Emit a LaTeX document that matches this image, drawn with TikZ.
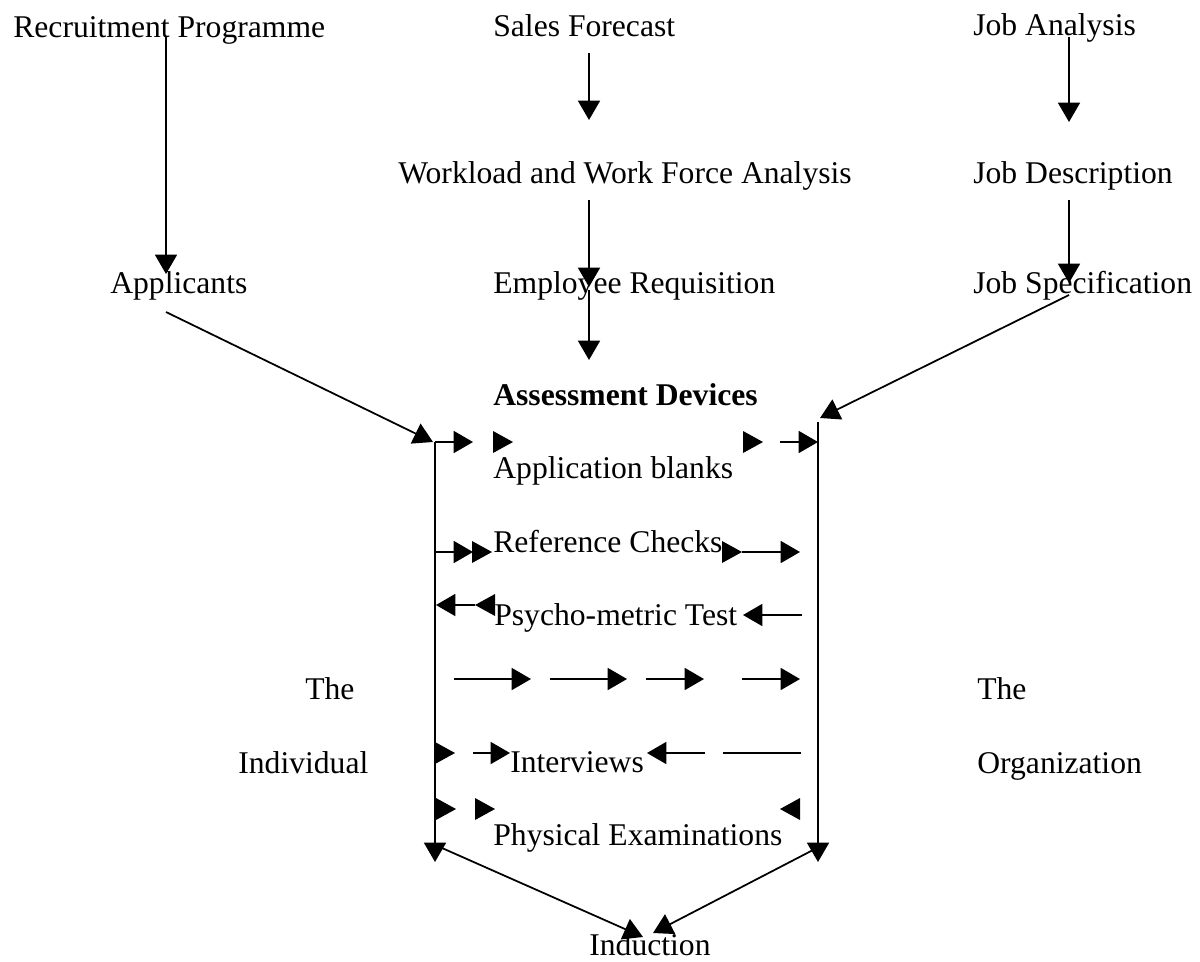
\documentclass[tikz,border=0pt]{standalone}
\usepackage{fontspec}
\setmainfont{Liberation Serif}
\usetikzlibrary{arrows.meta}
\begin{document}
\begin{tikzpicture}[x=0.02cm,y=-0.02cm,
  lbl/.style={anchor=base west,inner sep=0pt,font=\fontsize{18}{21}\selectfont},
  conn/.style={line width=1pt,-{Triangle[length=11pt,width=12.5pt]}},
  plain/.style={line width=1pt},
  headr/.pic={\fill (0,0) -- (-20,-11) -- (-20,11) -- cycle;},
  headl/.pic={\fill (0,0) -- (20,-11) -- (20,11) -- cycle;}]
\useasboundingbox (0,0) rectangle (1200,961);
% texts
\node[lbl] (rec) at (13,37) {Recruitment Programme};
\node[lbl] (sales) at (493,36) {Sales Forecast};
\node[lbl] (janal) at (973,35) {Job Analysis};
\node[lbl] (work) at (398,183) {Workload and Work Force Analysis};
\node[lbl] (jdesc) at (973,183) {Job Description};
\node[lbl] (appl) at (110,293) {Applicants};
\node[lbl] (empreq) at (493,293) {Employee Requisition};
\node[lbl] (jspec) at (973,293) {Job Specification};
\node[lbl,font=\fontsize{18}{21}\selectfont\bfseries] (assess) at (493,405) {Assessment Devices};
\node[lbl] (ablank) at (493,478) {Application blanks};
\node[lbl] (refch) at (493,552) {Reference Checks};
\node[lbl] (psy) at (494,625) {Psycho-metric Test};
\node[lbl] (the1) at (305,699) {The};
\node[lbl] (the2) at (977,699) {The};
\node[lbl] (indiv) at (238,773) {Individual};
\node[lbl] (org) at (977,773) {Organization};
\node[lbl] (intv) at (510,772) {Interviews};
\node[lbl] (phys) at (493,845) {Physical Examinations};
\node[lbl] (induc) at (589,955) {Induction};
% connector end points
\coordinate (recS) at (166,37);   \coordinate (applN) at (166,274);
\coordinate (salesS) at (589,53); \coordinate (workN) at (589,120);
\coordinate (janS) at (1069,37);  \coordinate (jdN) at (1069,122);
\coordinate (workS) at (589,200); \coordinate (erN) at (589,287);
\coordinate (erS) at (589,290);   \coordinate (asN) at (589,360);
\coordinate (jdS) at (1069,200);  \coordinate (jsN) at (1069,283);
\coordinate (applS) at (166,312); \coordinate (Ltop) at (433,442);
\coordinate (jsS) at (1069,295);  \coordinate (Rtop) at (820,418);
\coordinate (L0) at (435,442);    \coordinate (Lbot) at (435,862);
\coordinate (R0) at (818,422);    \coordinate (Rbot) at (818,862);
\coordinate (Lout) at (442,848);  \coordinate (indL) at (643,937);
\coordinate (Rout) at (813,850);  \coordinate (indR) at (653,933);
% connectors
\draw[conn] (recS) -- (applN);
\draw[conn] (salesS) -- (workN);
\draw[conn] (janS) -- (jdN);
\draw[conn] (workS) -- (erN);
\draw[conn] (erS) -- (asN);
\draw[conn] (jdS) -- (jsN);
\draw[conn] (applS) -- (Ltop);
\draw[conn] (jsS) -- (Rtop);
\draw[conn] (L0) -- (Lbot);
\draw[conn] (R0) -- (Rbot);
\draw[conn] (Lout) -- (indL);
\draw[conn] (Rout) -- (indR);
% row 1
\draw[conn] (435,442) -- (473,442);
\pic at (513,442) {headr};
\pic at (763,442) {headr};
\draw[conn] (780,442) -- (818,442);
% row 2
\draw[conn] (435,552) -- (473,552);
\pic at (492,552) {headr};
\pic at (742,552) {headr};
\draw[conn] (742,552) -- (800,552);
% row 3
\draw[conn] (475,605) -- (436,605);
\pic at (475,605) {headl};
\draw[conn] (802,615) -- (743,615);
% row 4
\draw[conn] (454,679) -- (531,679);
\draw[conn] (550,679) -- (627,679);
\draw[conn] (646,679) -- (704,679);
\draw[conn] (742,679) -- (800,679);
% row 5
\pic at (455,753) {headr};
\draw[conn] (473,753) -- (510,753);
\draw[conn] (705,753) -- (647,753);
\draw[plain] (723,753) -- (801,753);
% row 6
\pic at (456,809) {headr};
\pic at (495,809) {headr};
\pic at (780,809) {headl};
\end{tikzpicture}
\end{document}
